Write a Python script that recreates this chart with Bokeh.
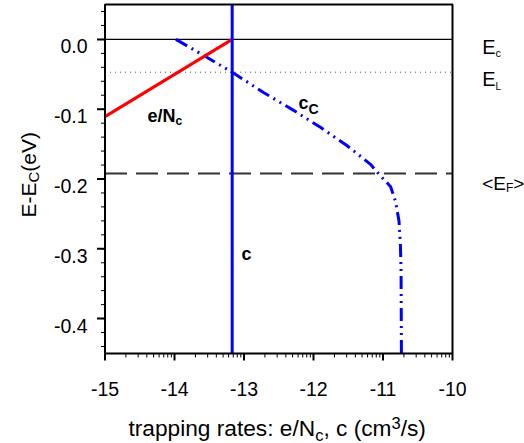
import math
from bokeh.plotting import figure
from bokeh.models import Range1d
from bokeh.core.properties import value
from bokeh.embed import file_html
from bokeh.resources import INLINE

# ---------------- data ----------------
x_lim = [-15, -10]
y_lim = [-0.45, 0.05]
x_ticks = [-15, -14, -13, -12, -11, -10]
x_tick_labels = ["-15", "-14", "-13", "-12", "-11", "-10"]
y_ticks = [-0.4, -0.3, -0.2, -0.1, 0.0]
y_tick_labels = ["-0.4", "-0.3", "-0.2", "-0.1", "0.0"]
# log-style minor ticks inside each decade of the x axis
x_minor = [d + math.log10(k) for d in range(-15, -10) for k in range(2, 10)]
y_minor = [round(-0.44 + 0.02 * i, 2) for i in range(25)]

# e/N_c (red line)
en_x = [-15.0, -13.17]
en_y = [-0.1106, 0.0]

# c (vertical blue line)
c_rate = -13.17

# c_C (dash-dot-dot curve)
cc_x = [-13.98, -13.58, -13.17, -12.72, -12.28, -11.90, -11.52, -11.18,
        -11.06, -10.89, -10.82, -10.77, -10.75, -10.74, -10.735]
cc_y = [0.0, -0.023, -0.047, -0.076, -0.102, -0.126, -0.152, -0.179,
        -0.193, -0.211, -0.232, -0.260, -0.293, -0.331, -0.45]

# energy levels
E_c = 0.0
E_L = -0.047
E_F = -0.192

# ---------------- layout (pixels) ----------------
W, H = 524, 443
BOX_L, BOX_R, BOX_T, BOX_B = 104.5, 452.0, 4.0, 353.0
SX = (BOX_R - BOX_L) / (x_lim[1] - x_lim[0])
SY = (BOX_B - BOX_T) / (y_lim[1] - y_lim[0])


def X(px):
    return x_lim[0] + (px - BOX_L) / SX


def Y(py):
    return y_lim[1] - (py - BOX_T) / SY


def PY(y):
    return BOX_T + (y_lim[1] - y) * SY


FONT = "Liberation Sans"

p = figure(width=W, height=H, title=None,
           x_range=Range1d(X(0), X(W)), y_range=Range1d(Y(H), Y(0)),
           x_axis_location=None, y_axis_location=None,
           output_backend="svg", toolbar_location=None, min_border=0)
p.grid.visible = False
p.outline_line_color = None
p.background_fill_color = "white"
p.border_fill_color = "white"

# reference lines
p.segment(x0=[x_lim[0]], x1=[x_lim[1]], y0=[E_c], y1=[E_c],
          line_color="black", line_width=1.2)
p.segment(x0=[x_lim[0]], x1=[x_lim[1]], y0=[E_L], y1=[E_L],
          line_color="#555555", line_width=1, line_dash="1 4")
p.segment(x0=[x_lim[0]], x1=[x_lim[1]], y0=[E_F], y1=[E_F],
          line_color="#333333", line_width=2, line_dash="22 9")

# curves
p.line(cc_x, cc_y, line_color="#0000ff", line_width=3, line_dash="13 5 2 5 2 5")
p.line(en_x, en_y, line_color="#ff0000", line_width=3)
p.segment(x0=[c_rate], x1=[c_rate], y0=[y_lim[0]], y1=[y_lim[1]],
          line_color="#0000ff", line_width=3)

# plot box
p.quad(left=[x_lim[0]], right=[x_lim[1]], bottom=[y_lim[0]], top=[y_lim[1]],
       fill_color=None, line_color="black", line_width=2)

# ticks (outward)
p.segment(x0=x_ticks, x1=x_ticks, y0=[y_lim[0]] * len(x_ticks),
          y1=[y_lim[0] - 7 / SY] * len(x_ticks), line_color="black", line_width=2)
p.segment(x0=x_minor, x1=x_minor, y0=[y_lim[0]] * len(x_minor),
          y1=[y_lim[0] - 4 / SY] * len(x_minor), line_color="black", line_width=1)
p.segment(x0=[x_lim[0]] * len(y_ticks), x1=[x_lim[0] - 8 / SX] * len(y_ticks),
          y0=y_ticks, y1=y_ticks, line_color="black", line_width=2)
p.segment(x0=[x_lim[0]] * len(y_minor), x1=[x_lim[0] - 4 / SX] * len(y_minor),
          y0=y_minor, y1=y_minor, line_color="black", line_width=1)

# tick labels
p.text(x=x_ticks, y=[Y(BOX_B + 35.5)] * len(x_ticks), text=x_tick_labels,
       text_font=value(FONT), text_font_size="19.5px", text_color="black",
       text_align="center", text_baseline="alphabetic")
p.text(x=[X(BOX_L - 17.5)] * len(y_ticks), y=[t - 7 / SY for t in y_ticks],
       text=y_tick_labels, text_font=value(FONT), text_font_size="19.5px",
       text_color="black", text_align="right", text_baseline="alphabetic")

# ---------------- composed texts ----------------
REG = {' ': 278, 't': 278, 'r': 333, 'a': 556, 'p': 556, 'i': 222, 'n': 556,
       'g': 556, 'e': 556, 's': 500, ':': 278, '/': 278, 'N': 722, 'c': 500,
       ',': 278, '(': 333, ')': 333, 'm': 833, '3': 556, 'E': 667, '-': 333,
       'V': 667, 'C': 722, '<': 584, '>': 584, 'F': 611, 'L': 556}
BOLD = {'e': 556, '/': 278, 'N': 722, 'c': 556, 'C': 722}


def tw(text, size, bold=False):
    tab = BOLD if bold else REG
    return sum(tab.get(ch, 556) for ch in text) * size / 1000.0


def compose(pieces, px0, py0, vertical=False):
    """pieces: (text, size_px, drop_px, bold); (px0, py0) = start of baseline"""
    adv = 0.0
    for text, size, drop, bold in pieces:
        if vertical:
            xx, yy, ang = X(px0 + drop), Y(py0 - adv), math.pi / 2
        else:
            xx, yy, ang = X(px0 + adv), Y(py0 + drop), 0.0
        p.text(x=[xx], y=[yy], text=[text], angle=ang,
               text_font=value(FONT), text_font_size=f"{size}px",
               text_font_style="bold" if bold else "normal",
               text_color="black", text_align="left",
               text_baseline="alphabetic")
        adv += tw(text, size, bold)


# x axis label
xl = [("trapping rates: e/N", 22.7, 0, False), ("c", 16.5, 7, False),
      (", c (cm", 22.7, 0, False), ("3", 16.5, -5, False), ("/s)", 22.7, 0, False)]
xl_w = sum(tw(t, s, b) for t, s, d, b in xl)
compose(xl, 276.7 - xl_w / 2, 427)

# y axis label (rotated, reading upwards)
yl = [("E-E", 21, 0, False), ("C", 15, 5, False), ("(eV)", 21, 0, False)]
compose(yl, 27.5, 217, vertical=True)

# level names at the right
compose([("E", 20, 0, False), ("c", 11, 6, False)], 481.7, PY(E_c) + 7.5)
compose([("E", 20, 0, False), ("L", 10, 8, False)], 481.7, PY(E_L) + 6.7)
compose([("<E", 19, 0, False), ("F", 12, 3.7, False), (">", 19, 0, False)],
        481.7, PY(E_F) + 10.5)

# curve names
compose([("e/N", 18, 0, True), ("c", 12, 5, True)], 147, 115)
compose([("c", 18, 0, True), ("C", 14, 5.3, True)], 298, 102.7)
compose([("c", 18, 0, True)], 241, 253)

open("out.html", "w").write(file_html(p, INLINE))
